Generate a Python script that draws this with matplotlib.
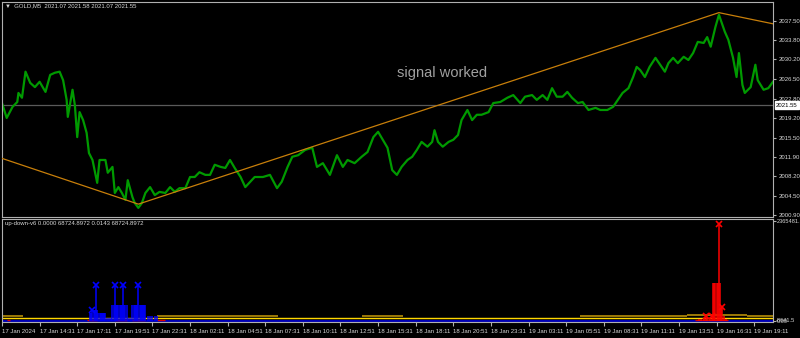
import matplotlib.pyplot as plt

# ---- price (GOLD M5), bar index -> close ----
price_bar = [0, 4, 9, 13, 14, 17, 20, 24, 28, 32, 37, 41, 45, 49, 52, 55, 56, 60, 62, 64,
             66, 69, 72, 74, 77, 81, 83, 88, 90, 94, 96, 99, 102, 105, 107, 111, 113, 116,
             119, 122, 126, 130, 134, 139, 143, 147, 151, 156, 160, 164, 168, 173, 177,
             181, 186, 190, 194, 198, 203, 207, 215, 222, 228, 234, 238, 243, 247, 252,
             258, 264, 268, 273, 279, 285, 290, 294, 300, 306, 311, 316, 320, 324, 328,
             332, 336, 340, 345, 349, 353, 357, 362, 366, 368, 371, 375, 380, 384, 388,
             391, 396, 400, 404, 408, 414, 418, 424, 430, 435, 441, 445, 451, 455, 460,
             464, 468, 472, 477, 481, 485, 490, 494, 499, 505, 509, 515, 520, 524, 528,
             533, 537, 540, 543, 547, 551, 556, 560, 564, 567, 571, 575, 580, 584, 588,
             592, 597, 600, 603, 607, 610, 613, 615, 618, 622, 625, 627, 630, 632, 637,
             641, 643, 648, 652, 656]
price_close = [2022.0, 2019.2, 2021.3, 2022.2, 2023.9, 2023.0, 2027.9, 2025.8, 2025.0, 2026.0,
               2024.1, 2027.3, 2027.7, 2027.9, 2026.3, 2022.6, 2019.4, 2024.5, 2021.6, 2015.6,
               2020.3, 2018.8, 2016.4, 2012.6, 2011.3, 2007.0, 2011.3, 2011.3, 2008.9, 2010.0,
               2005.1, 2006.2, 2005.1, 2003.8, 2007.5, 2004.3, 2003.2, 2002.3, 2003.2, 2005.1,
               2006.2, 2004.7, 2005.3, 2005.1, 2006.2, 2005.3, 2006.0, 2006.0, 2008.1, 2008.1,
               2009.0, 2008.5, 2008.5, 2010.4, 2010.0, 2009.8, 2011.3, 2009.8, 2008.1, 2006.2,
               2008.1, 2008.1, 2008.5, 2006.0, 2007.2, 2010.0, 2011.9, 2012.2, 2013.2, 2013.6,
               2010.0, 2010.7, 2008.5, 2012.2, 2010.0, 2011.3, 2010.7, 2011.9, 2012.8, 2015.6,
               2016.6, 2015.1, 2013.6, 2009.4, 2008.5, 2010.0, 2011.3, 2011.9, 2013.2, 2014.7,
               2013.8, 2014.7, 2016.9, 2014.7, 2013.8, 2014.7, 2015.1, 2016.0, 2018.8, 2020.7,
               2018.8, 2019.8, 2019.8, 2020.3, 2022.0, 2022.2, 2023.0, 2023.5, 2022.0, 2023.2,
               2023.5, 2022.6, 2023.5, 2022.6, 2024.8, 2023.2, 2023.2, 2024.1, 2023.0, 2022.0,
               2022.2, 2020.7, 2021.1, 2020.7, 2020.7, 2021.3, 2022.6, 2023.9, 2024.8, 2026.9,
               2028.8, 2028.2, 2026.9, 2028.8, 2030.5, 2029.2, 2027.9, 2029.5, 2030.5, 2029.5,
               2030.7, 2030.1, 2031.4, 2033.5, 2033.3, 2034.4, 2032.6, 2036.3, 2038.6, 2036.7,
               2035.4, 2033.9, 2030.5, 2026.9, 2031.4, 2025.4, 2023.9, 2025.0, 2029.2, 2026.3,
               2024.5, 2024.8, 2026.0]

trend_bar = [0, 116, 610, 656]
trend_price = [2011.6, 2003.0, 2039.0, 2036.9]
hline_price = 2021.55

price_ticks = [2037.50, 2033.80, 2030.20, 2026.50, 2022.80, 2019.20,
               2015.50, 2011.90, 2008.20, 2004.50, 2000.90]

# ---- up-down-v6 indicator ----
up_bar = [75, 76, 77, 78, 79, 80, 81, 82, 83, 84, 85, 86, 87, 88, 89, 91, 93,
          94, 95, 96, 97, 98, 99, 100, 101, 102, 103, 104, 105, 106, 107, 109,
          111, 112, 113, 114, 115, 116, 117, 118, 119, 120, 121, 122,
          124, 126, 128, 130, 132]
up_val = [190e3, 190e3, 260e3, 260e3, 260e3, 840e3, 260e3, 190e3, 190e3, 190e3, 190e3,
          190e3, 190e3, 190e3, 60e3, 60e3, 60e3,
          380e3, 380e3, 840e3, 380e3, 380e3, 380e3, 380e3, 380e3, 380e3, 840e3, 380e3,
          380e3, 380e3, 70e3, 70e3,
          380e3, 380e3, 380e3, 380e3, 380e3, 840e3, 380e3, 380e3, 380e3, 380e3, 380e3, 380e3,
          120e3, 120e3, 120e3, 120e3, 120e3]
up_sig_bar = [77, 80, 96, 103, 116]
up_sig_val = [260e3, 840e3, 840e3, 840e3, 840e3]

dn_bar = [593, 595, 597, 599, 600, 602, 604, 605, 606, 607, 608, 609, 610, 611, 612, 613, 614, 616]
dn_val = [40e3, 40e3, 60e3, 110e3, 60e3, 60e3, 110e3, 900e3, 900e3, 900e3, 900e3, 900e3,
          2290e3, 900e3, 300e3, 300e3, 110e3, 40e3]
dn_sig_bar = [599, 604, 610, 613]
dn_sig_val = [110e3, 110e3, 2290e3, 330e3]

red_lo_start = [4, 72, 96, 111, 132, 590]
red_lo_end = [7, 81, 106, 122, 139, 618]
red_lo_val = 20e3

yellow_bar = [0, 656]
yellow_val = [65e3, 65e3]
olive_start = [0, 132, 306, 492, 562, 583, 634]
olive_end = [18, 235, 341, 562, 583, 634, 656]
olive_val = [105e3, 100e3, 100e3, 105e3, 120e3, 135e3, 120e3]

ind_max = 2365481.5
ind_min = -8641.5

time_ticks = list(range(0, 657, 32))
time_labels = ["17 Jan 2024", "17 Jan 14:31", "17 Jan 17:11", "17 Jan 19:51", "17 Jan 22:31",
               "18 Jan 02:11", "18 Jan 04:51", "18 Jan 07:31", "18 Jan 10:11", "18 Jan 12:51",
               "18 Jan 15:31", "18 Jan 18:11", "18 Jan 20:51", "18 Jan 23:31", "19 Jan 03:11",
               "19 Jan 05:51", "19 Jan 08:31", "19 Jan 11:11", "19 Jan 13:51", "19 Jan 16:31",
               "19 Jan 19:11"]

plt.rcParams['font.family'] = ['Liberation Sans', 'DejaVu Sans']
FRAME = '#B0B0B0'
TXT = '#D8D8D8'
FS = 4.3

W, H = 800, 338
fig = plt.figure(figsize=(W / 100, H / 100), dpi=100, facecolor='black')
ax1 = fig.add_axes([2 / W, 1 - 217 / H, 771 / W, 215 / H], facecolor='black')
ax2 = fig.add_axes([2 / W, 1 - 322 / H, 771 / W, 103 / H], facecolor='black')

for ax in (ax1, ax2):
    ax.set_xlim(0, 656)
    for s in ax.spines.values():
        s.set_color(FRAME)
        s.set_linewidth(0.8)
    ax.yaxis.tick_right()

# ---- price window ----
ax1.axhline(hline_price, color='#5A5A5A', lw=0.9, zorder=1)
ax1.plot(price_bar, price_close, color='#009A00', lw=1.6, zorder=2)
ax1.plot(trend_bar, trend_price, color='#C87F0A', lw=0.9, zorder=3)
ax1.set_ylim(2000.58, 2041.0)
ax1.set_yticks(price_ticks)
ax1.set_yticklabels([f"{v:.2f}" for v in price_ticks])
ax1.tick_params(axis='y', colors=FRAME, labelcolor=TXT, labelsize=FS, length=2.5, pad=1.5)
ax1.set_xticks([])
ax1.text(374, 2027.7, "signal worked", color='#A0A0A0', fontsize=10.5,
         ha='center', va='center')
ytr1 = ax1.get_yaxis_transform()
ax1.text(1.004, hline_price, "2021.55", transform=ytr1, fontsize=FS, color='black',
         ha='left', va='center',
         bbox=dict(boxstyle='square,pad=0.25', fc='white', ec='white'))

fig.text(5 / W, 1 - 6 / H, "\u25bc  GOLD,M5  2021.07 2021.58 2021.07 2021.55",
         color=TXT, fontsize=FS, ha='left', va='center')

# ---- indicator window ----
ax2.hlines(olive_val, olive_start, olive_end, color='#9C7A08', lw=1.4, zorder=1)
ax2.plot(yellow_bar, yellow_val, color='#FFD700', lw=1.0, zorder=2)
ax2.axhline(0, color='#0000C8', lw=1.3, zorder=2)
ax2.hlines([red_lo_val] * len(red_lo_start), red_lo_start, red_lo_end,
           color='#E00000', lw=1.0, zorder=3)
ax2.vlines(up_bar, 0, up_val, color='#0000FF', lw=1.1, zorder=4)
ax2.plot(up_sig_bar, up_sig_val, ls='none', marker='x', ms=4.5, mew=1.2,
         color='#0000FF', zorder=5)
ax2.vlines(dn_bar, 0, dn_val, color='#FF0000', lw=1.1, zorder=4)
ax2.plot(dn_sig_bar, dn_sig_val, ls='none', marker='x', ms=4.5, mew=1.2,
         color='#FF0000', zorder=5)

scale = (ind_max - ind_min) / 100.0
ax2.set_ylim(ind_min - scale, ind_max + 2 * scale)
ax2.set_yticks([ind_max, 0])
ax2.set_yticklabels([f"{ind_max:.1f}", "0.00"])
ax2.tick_params(axis='y', colors=FRAME, labelcolor=TXT, labelsize=4.1, length=2, pad=1)
ytr2 = ax2.get_yaxis_transform()
ax2.text(1.004, ind_min, f"{ind_min:.1f}", transform=ytr2, color=TXT, fontsize=4.1,
         ha='left', va='center')

ax2.set_xticks(time_ticks)
ax2.set_xticklabels(time_labels, ha='left')
ax2.tick_params(axis='x', colors=FRAME, labelcolor=TXT, labelsize=FS, length=3, pad=2)

fig.text(5 / W, 1 - 224 / H, "up-down-v6 0.0000 68724.8972 0.0143 68724.8972",
         color=TXT, fontsize=FS, ha='left', va='center')

fig.savefig("out.png", dpi=100, facecolor='black')
